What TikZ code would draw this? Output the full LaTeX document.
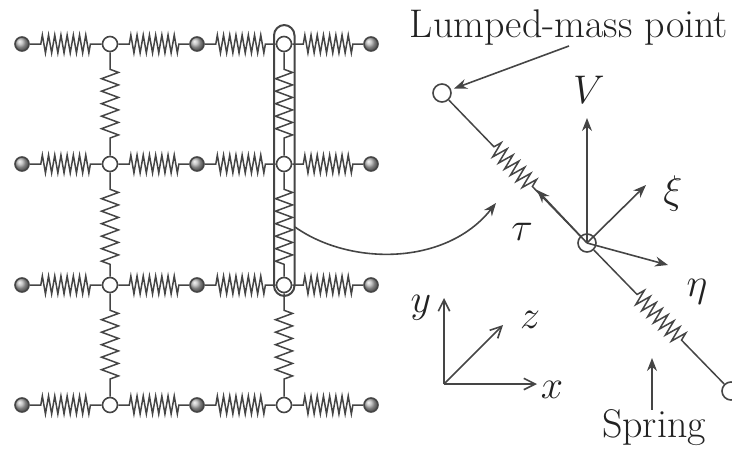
\documentclass[tikz,border=0pt]{standalone}
\usepackage{fix-cm}
\usepackage{tikz}
\usetikzlibrary{arrows.meta,decorations.pathmorphing}
\definecolor{ink}{HTML}{222222}
\definecolor{wire}{HTML}{454545}

\begin{document}
\begin{tikzpicture}[
  x=1pt,y=-1pt,
  every node/.style={font=\fontsize{40}{44}\selectfont,color=ink,inner sep=0pt},
  mass/.style={circle,draw=wire,line width=1.6pt,ball color=gray!60,minimum size=14pt},
  joint/.style={circle,draw=wire,line width=1.6pt,fill=white,minimum size=15pt},
  hspring/.style={draw=wire,line width=1.5pt,decorate,decoration={zigzag,segment length=6.2pt,amplitude=9pt,pre length=11pt,post length=10pt}},
  vspring/.style={draw=wire,line width=1.5pt,decorate,decoration={zigzag,segment length=12.5pt,amplitude=8.5pt,pre length=17pt,post length=12pt}},
  dspring/.style={draw=wire,line width=1.5pt,decorate,decoration={zigzag,segment length=8.5pt,amplitude=8pt,pre length=65pt,post length=65pt}},
  capsule/.style={draw=wire,line width=2pt,rounded corners=10.5pt},
  arrow/.style={-{Stealth[length=13pt,width=10pt]},draw=wire,line width=1.6pt},
  axis/.style={-{Straight Barb[length=4mm,width=4mm]},draw=wire,line width=1.6pt}
]
\useasboundingbox (0,0) rectangle (732,450);
\foreach \row/\yy in {1/44,2/164,3/285,4/405}{
  \node[mass] (m1\row) at (22,\yy) {};
  \node[joint] (j1\row) at (110,\yy) {};
  \node[mass] (m2\row) at (197,\yy) {};
  \node[joint] (j2\row) at (284,\yy) {};
  \node[mass] (m3\row) at (371,\yy) {};
  \draw[hspring] (m1\row)--(j1\row);
  \draw[hspring] (j1\row)--(m2\row);
  \draw[hspring] (m2\row)--(j2\row);
  \draw[hspring] (j2\row)--(m3\row);
}
\foreach \col in {1,2}{
  \draw[vspring] (j\col1)--(j\col2);
  \draw[vspring] (j\col2)--(j\col3);
  \draw[vspring] (j\col3)--(j\col4);
}
\draw[capsule] (274,296) rectangle (294.5,25);
\coordinate (bendfrom) at (295,227);
\coordinate (bendto) at (496,203);
\draw[arrow] (bendfrom) .. controls (350,266) and (446,266) .. (bendto);

\node[circle,draw=wire,line width=1.6pt,fill=white,minimum size=18pt] (tip) at (442,93) {};
\node[circle,draw=wire,line width=1.6pt,minimum size=18pt] (hub) at (587,243) {};
\node[circle,draw=wire,line width=1.6pt,fill=white,minimum size=18pt] (end) at (731,391) {};
\draw[dspring] (tip)--(hub);
\draw[dspring,decoration={pre length=62pt,post length=58pt}] (hub)--(end);

\node (lumped) at (569,28) {Lumped-mass point};
\draw[arrow,shorten >=3pt] (lumped.south)--(tip);

\coordinate (vtip) at (587,118);
\coordinate (xitip) at (646,185);
\coordinate (etatip) at (668,265);
\coordinate (tautip) at (537,190);
\draw[arrow] (hub.center)--(vtip);
\draw[arrow] (hub.center)--(xitip);
\draw[arrow] (hub.center)--(etatip);
\draw[arrow] (hub.center)--(tautip);
\node (vlabel) at (589,90) {$V$};
\node (xilabel) at (673,193) {$\xi$};
\node (etalabel) at (697,292) {$\eta$};
\node (taulabel) at (522,232) {$\tau$};

\node (spring) at (654,428) {Spring};
\coordinate (springtip) at (652,358);
\draw[arrow] (spring.north -| springtip)--(springtip);

\coordinate (origin) at (444,384);
\coordinate (ytip) at (444,298);
\coordinate (ztip) at (503,325);
\coordinate (xtip) at (537,384);
\draw[axis] (origin)--(ytip);
\draw[axis] (origin)--(ztip);
\draw[axis] (origin)--(xtip);
\node (ylabel) at (421,308) {$y$};
\node (zlabel) at (530,320) {$z$};
\node (xlabel) at (552,390) {$x$};
\end{tikzpicture}
\end{document}
